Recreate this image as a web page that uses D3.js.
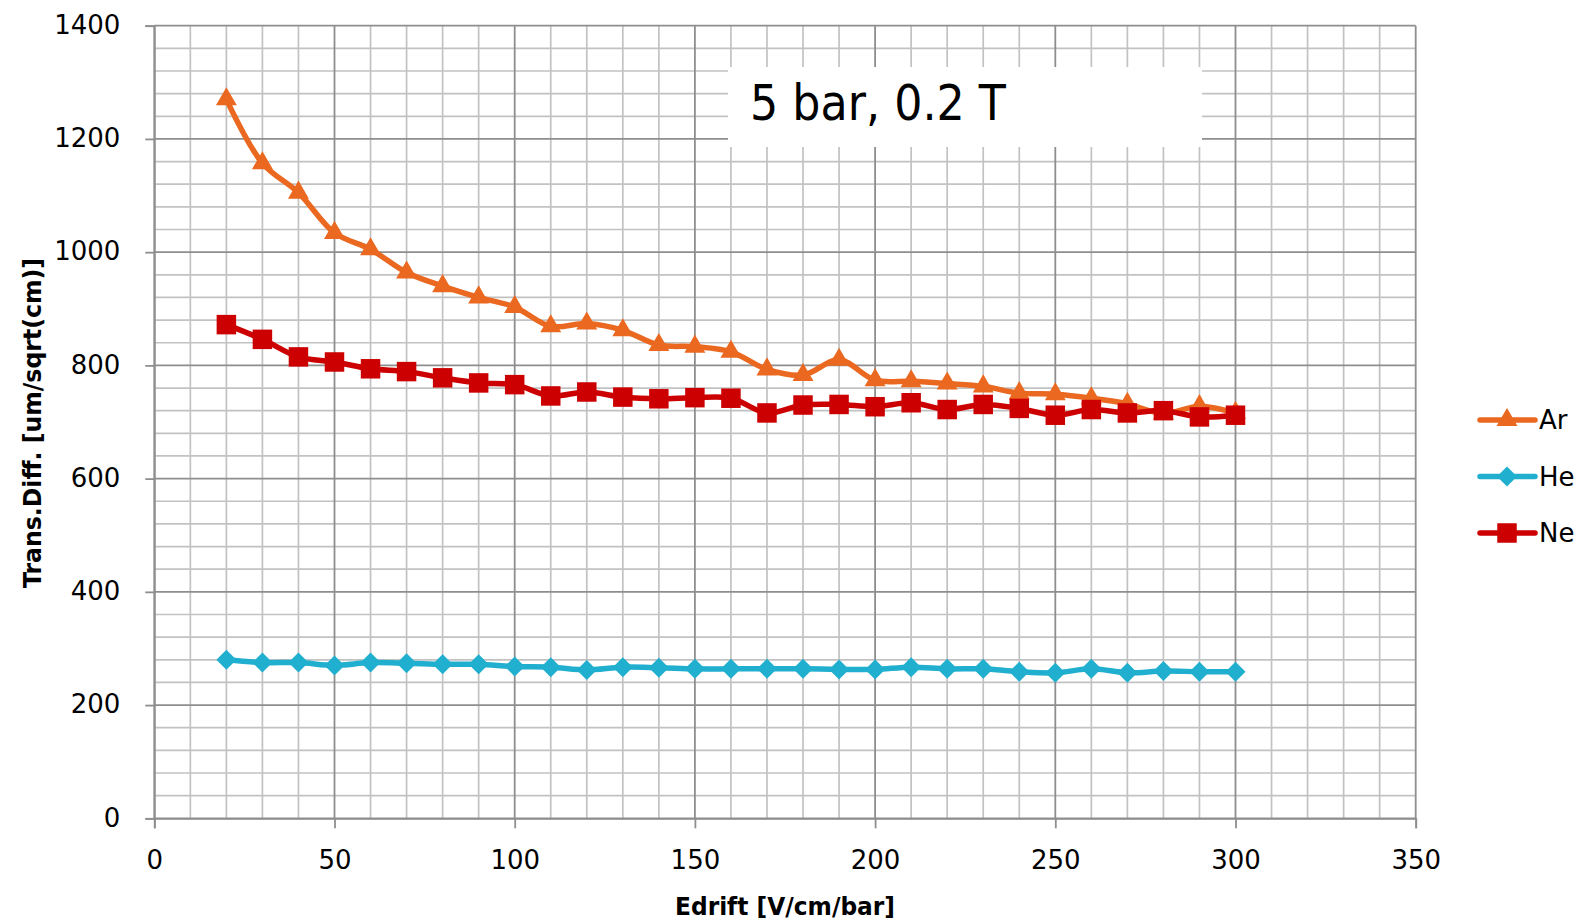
<!DOCTYPE html>
<html>
<head>
<meta charset="utf-8">
<script src="https://cdn.jsdelivr.net/npm/d3@7"></script>
<style>
  body { margin: 0; background: #fff; }
  svg { display: block; font-family: "DejaVu Sans", sans-serif; }
</style>
</head>
<body>
<svg width="1577" height="924"></svg>
<script>
// Data
var edrift = [20, 30, 40, 50, 60, 70, 80, 90, 100, 110, 120, 130, 140, 150, 160,
              170, 180, 190, 200, 210, 220, 230, 240, 250, 260, 270, 280, 290, 300];
var ar = [1270, 1157, 1105, 1034, 1005, 964, 940, 920, 903, 869, 874, 862, 836, 833, 824,
          793, 783, 810, 774, 772, 768, 763, 751, 749, 742, 732, 715, 728, 716];
var he = [280, 275, 275, 270, 275, 274, 272, 272, 268, 267, 262, 267, 266, 264, 264,
          264, 264, 263, 263, 267, 264, 264, 259, 257, 264, 257, 260, 259, 259];
var ne = [872, 846, 815, 806, 794, 789, 778, 769, 766, 746, 753, 744, 741, 743, 742,
          716, 730, 731, 727, 734, 722, 731, 724, 712, 722, 716, 720, 709, 712];
var seriesNames = ["Ar", "He", "Ne"];
var xTicks = [0, 50, 100, 150, 200, 250, 300, 350];
var yTicks = [0, 200, 400, 600, 800, 1000, 1200, 1400];

var svg = d3.select("svg"),
    margin = {top: 25.7, left: 154.3},
    width = 1261.4,
    height = 792.6;

var g = svg.append("g")
    .attr("transform", "translate(" + margin.left + "," + margin.top + ")");

// Scales
var x = d3.scaleLinear().domain([0, 350]).range([0, width]);
var y = d3.scaleLinear().domain([0, 1400]).range([height, 0]);

// Minor grid
g.append("g").selectAll("line")
    .data(d3.range(10, 350, 10).filter(function(v) { return v % 50 !== 0; }))
    .enter().append("line")
    .attr("x1", function(d) { return x(d); }).attr("x2", function(d) { return x(d); })
    .attr("y1", 0).attr("y2", height)
    .attr("stroke", "#c2c2c2").attr("stroke-width", 1.7);
g.append("g").selectAll("line")
    .data(d3.range(40, 1400, 40).filter(function(v) { return v % 200 !== 0; }))
    .enter().append("line")
    .attr("y1", function(d) { return y(d); }).attr("y2", function(d) { return y(d); })
    .attr("x1", 0).attr("x2", width)
    .attr("stroke", "#c2c2c2").attr("stroke-width", 1.7);

// Major grid
g.append("g").selectAll("line")
    .data(xTicks)
    .enter().append("line")
    .attr("x1", function(d) { return x(d); }).attr("x2", function(d) { return x(d); })
    .attr("y1", 0).attr("y2", height)
    .attr("stroke", "#8e8e8e").attr("stroke-width", 1.8);
g.append("g").selectAll("line")
    .data(yTicks)
    .enter().append("line")
    .attr("y1", function(d) { return y(d); }).attr("y2", function(d) { return y(d); })
    .attr("x1", 0).attr("x2", width)
    .attr("stroke", "#8e8e8e").attr("stroke-width", 1.8);

// Axes
var xAxis = g.append("g")
    .attr("transform", "translate(0," + height + ")")
    .call(d3.axisBottom(x).tickValues(xTicks).tickSize(10).tickPadding(22));
var yAxis = g.append("g")
    .call(d3.axisLeft(y).tickValues(yTicks).tickFormat(d3.format("d")).tickSize(9).tickPadding(25));
[xAxis, yAxis].forEach(function(a) {
    a.select(".domain").attr("stroke", "#8e8e8e").attr("stroke-width", 1.8);
    a.selectAll(".tick line").attr("stroke", "#8e8e8e").attr("stroke-width", 1.8);
    a.selectAll("text").attr("font-size", 26).attr("fill", "#000")
        .attr("font-family", "DejaVu Sans, sans-serif");
});
yAxis.selectAll("text").attr("dy", "0.3em");

// Title box
g.append("rect")
    .attr("x", 728 - margin.left).attr("y", 67 - margin.top)
    .attr("width", 474).attr("height", 80)
    .attr("fill", "#fff");
g.append("text")
    .attr("x", 750 - margin.left).attr("y", 120 - margin.top)
    .attr("font-size", 50)
    .attr("textLength", 256).attr("lengthAdjust", "spacingAndGlyphs")
    .text("5 bar, 0.2 T");

// Series
var colors = {Ar: "#ea681f", He: "#20afcf", Ne: "#cc0000"};
var values = {Ar: ar, He: he, Ne: ne};
var shapes = {
    Ar: d3.symbol().type(d3.symbolTriangle).size(190),
    He: d3.symbol().type(d3.symbolSquare).size(200),
    Ne: d3.symbol().type(d3.symbolSquare).size(380)
};
var rot = {Ar: 0, He: 45, Ne: 0};

var line = d3.line()
    .x(function(d) { return x(d[0]); })
    .y(function(d) { return y(d[1]); })
    .curve(d3.curveCatmullRom.alpha(0.5));

["He", "Ar", "Ne"].forEach(function(name) {
    var pts = edrift.map(function(e, i) { return [e, values[name][i]]; });
    var s = g.append("g");
    s.append("path")
        .datum(pts)
        .attr("d", line)
        .attr("fill", "none")
        .attr("stroke", colors[name])
        .attr("stroke-width", 5.5)
        .attr("stroke-linejoin", "round");
    s.selectAll("path.mark")
        .data(pts)
        .enter().append("path")
        .attr("class", "mark")
        .attr("d", shapes[name])
        .attr("fill", colors[name])
        .attr("transform", function(d) {
            return "translate(" + x(d[0]) + "," + y(d[1]) + ") rotate(" + rot[name] + ")";
        });
});

// Legend
var legend = svg.append("g");
seriesNames.forEach(function(name, i) {
    var ly = 420 + i * 56.5;
    legend.append("line")
        .attr("x1", 1480).attr("x2", 1535).attr("y1", ly).attr("y2", ly)
        .attr("stroke", colors[name]).attr("stroke-width", 5.5)
        .attr("stroke-linecap", "round");
    legend.append("path")
        .attr("d", shapes[name])
        .attr("fill", colors[name])
        .attr("transform", "translate(1507," + ly + ") rotate(" + rot[name] + ")");
    legend.append("text")
        .attr("x", 1539).attr("y", ly).attr("dy", "0.36em")
        .attr("font-size", 26)
        .text(name);
});

// Axis titles
svg.append("text")
    .attr("x", 785).attr("y", 915)
    .attr("text-anchor", "middle")
    .attr("font-size", 25).attr("font-weight", "bold")
    .attr("textLength", 220).attr("lengthAdjust", "spacingAndGlyphs")
    .text("Edrift [V/cm/bar]");
svg.append("text")
    .attr("transform", "translate(41,423) rotate(-90)")
    .attr("text-anchor", "middle")
    .attr("font-size", 25).attr("font-weight", "bold")
    .attr("textLength", 330).attr("lengthAdjust", "spacingAndGlyphs")
    .text("Trans.Diff. [um/sqrt(cm)]");
</script>
</body>
</html>
